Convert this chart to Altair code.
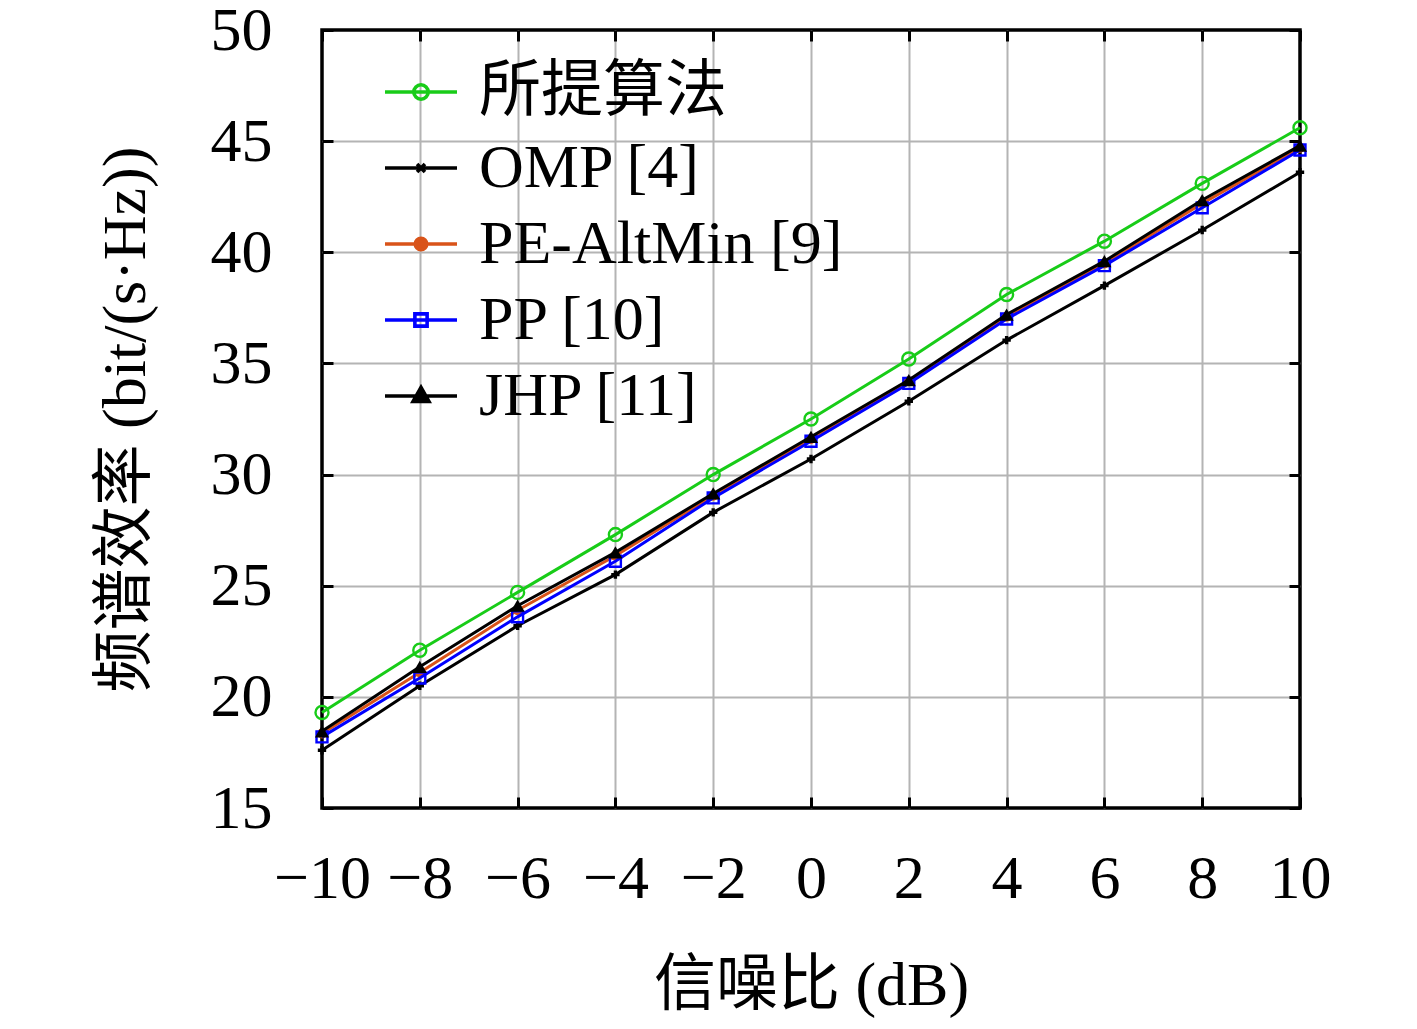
import altair as alt
import pandas as pd

snr = [-10, -8, -6, -4, -2, 0, 2, 4, 6, 8, 10]
series_names = ["所提算法", "OMP [4]", "PE-AltMin [9]", "PP [10]", "JHP [11]"]
proposed = [19.3, 22.1, 24.7, 27.3, 30.0, 32.5, 35.2, 38.1, 40.5, 43.1, 45.6]
omp = [17.6, 20.5, 23.2, 25.5, 28.3, 30.7, 33.3, 36.05, 38.5, 41.0, 43.6]
pe_altmin = [18.35, 21.1, 23.9, 26.35, 29.05, 31.6, 34.2, 37.1, 39.5, 42.2, 44.7]
pp = [18.2, 20.85, 23.6, 26.1, 28.95, 31.5, 34.1, 37.0, 39.4, 42.0, 44.6]
jhp = [18.45, 21.35, 24.1, 26.5, 29.15, 31.7, 34.25, 37.2, 39.6, 42.35, 44.8]
x_ticks = [-10, -8, -6, -4, -2, 0, 2, 4, 6, 8, 10]
y_ticks = [15, 20, 25, 30, 35, 40, 45, 50]

values = [proposed, omp, pe_altmin, pp, jhp]
rows = []
for name, vals in zip(series_names, values):
    for x, v in zip(snr, vals):
        rows.append({"snr": x, "se": v, "series": name})
df = pd.DataFrame(rows)

colors = ["#18cc18", "#000000", "#d95319", "#0000ff", "#000000"]
fills = ["transparent", "#000000", "#d95319", "transparent", "#000000"]
shapes = ["circle", "cross", "circle", "square", "triangle-up"]
point_sizes = [170, 70, 100, 120, 200]
point_filled = [False, True, True, False, True]

# legend symbols: a horizontal line with the marker in the middle
legend_paths = [
    "M-1,0H1M0.2,0A0.2,0.2,0,1,1,-0.2,0A0.2,0.2,0,1,1,0.2,0Z",
    "M-1,0H1M-0.11,-0.11L0.11,0.11M-0.11,0.11L0.11,-0.11",
    "M-1,0H1M0.16,0A0.16,0.16,0,1,1,-0.16,0A0.16,0.16,0,1,1,0.16,0Z",
    "M-1,0H1M-0.17,-0.17H0.17V0.17H-0.17Z",
    "M-1,0H1M0,-0.24L0.22,0.15H-0.22Z",
]

font = "Liberation Serif, Noto Sans CJK SC, serif"
x_scale = alt.Scale(domain=[-10, 10], nice=False)
y_scale = alt.Scale(domain=[15, 50], nice=False)

# data layers (no axes of their own)
layers = []
for i, name in enumerate(series_names):
    base = alt.Chart(df).transform_filter(alt.datum.series == name)
    enc = dict(
        x=alt.X("snr:Q", scale=x_scale, axis=None),
        y=alt.Y("se:Q", scale=y_scale, axis=None),
    )
    line = base.mark_line(color=colors[i], strokeWidth=3).encode(**enc)
    pts = base.mark_point(
        shape=shapes[i],
        size=point_sizes[i],
        color=colors[i],
        filled=point_filled[i],
        strokeWidth=2.4,
        opacity=1,
    ).encode(**enc)
    layers += [line, pts]

empty = alt.Chart(df).transform_filter("false").mark_point(opacity=0)

# grid only, interior lines (so the frame stays black)
grid_layer = empty.encode(
    x=alt.X("snr:Q", scale=x_scale, axis=alt.Axis(
        values=x_ticks[1:-1], grid=True, labels=False, ticks=False, domain=False,
        title=None, orient="bottom", gridColor="#b4b4b4", gridWidth=2)),
    y=alt.Y("se:Q", scale=y_scale, axis=alt.Axis(
        values=y_ticks[1:-1], grid=True, labels=False, ticks=False, domain=False,
        title=None, orient="left", gridColor="#b4b4b4", gridWidth=2)),
)

# labels and titles
label_layer = empty.encode(
    x=alt.X("snr:Q", scale=x_scale, axis=alt.Axis(
        values=x_ticks, grid=False, ticks=False, domain=False, orient="bottom",
        title="信噪比 (dB)", titleX=489, titleY=177, titleBaseline="middle",
        labelPadding=40, labelOverlap=False, labelFlush=False)),
    y=alt.Y("se:Q", scale=y_scale, axis=alt.Axis(
        values=y_ticks, grid=False, ticks=False, domain=False, orient="left",
        title="频谱效率 (bit/(s·Hz))", titleX=-197, titleBaseline="middle",
        labelPadding=50, labelOverlap=False, labelFlush=False)),
)

# inward ticks on all four sides
def tick_layer(xo, yo):
    return empty.encode(
        x=alt.X("snr:Q", scale=x_scale, axis=alt.Axis(
            values=x_ticks, grid=False, labels=False, domain=False, title=None,
            orient=xo, offset=-11, ticks=True, tickSize=11, tickWidth=3, tickColor="#000000")),
        y=alt.Y("se:Q", scale=y_scale, axis=alt.Axis(
            values=y_ticks, grid=False, labels=False, domain=False, title=None,
            orient=yo, offset=-11, ticks=True, tickSize=11, tickWidth=3, tickColor="#000000")),
    )

legend = alt.Legend(
    title=None,
    orient="none",
    legendX=41,
    legendY=4,
    padding=20,
    labelFontSize=62,
    labelFont=font,
    labelColor="#000000",
    labelOffset=20,
    labelLimit=800,
    symbolSize=5184,
    symbolStrokeWidth=3.6,
    rowPadding=7,
)
legend_layer = (
    alt.Chart(df)
    .transform_filter("false")
    .mark_point(opacity=1, strokeWidth=3.6)
    .encode(
        shape=alt.Shape("series:N", scale=alt.Scale(domain=series_names, range=legend_paths), legend=legend),
        stroke=alt.Stroke("series:N", scale=alt.Scale(domain=series_names, range=colors), legend=legend),
        fill=alt.Fill("series:N", scale=alt.Scale(domain=series_names, range=fills), legend=legend),
    )
)

chart = (
    alt.layer(grid_layer, *layers, label_layer, tick_layer("bottom", "left"),
              tick_layer("top", "right"), legend_layer)
    .resolve_axis(x="independent", y="independent")
    .properties(
        width=978,
        height=778,
        padding={"left": 314, "top": 22, "right": 109, "bottom": 213},
        autosize=alt.AutoSizeParams(type="none"),
        background="#ffffff",
    )
    .configure_view(stroke="#000000", strokeWidth=3.5)
    .configure_axis(
        labelFont=font,
        labelFontSize=62,
        labelColor="#000000",
        titleFont=font,
        titleFontSize=62,
        titleFontWeight="normal",
        titleColor="#000000",
    )
)

chart.save("out.html", embed_options={"renderer": "svg", "actions": False})
